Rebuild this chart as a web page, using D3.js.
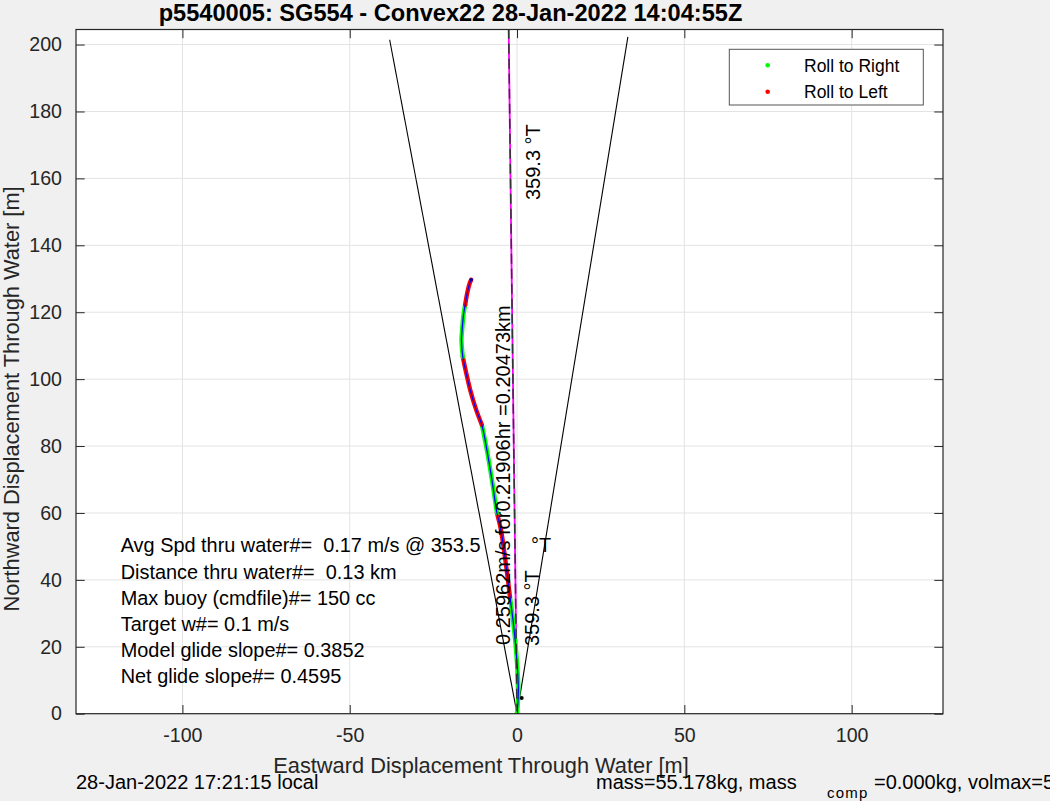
<!DOCTYPE html>
<html>
<head>
<meta charset="utf-8">
<script src="https://cdn.jsdelivr.net/npm/d3@7"></script>
<style>
  html, body { margin: 0; padding: 0; background: #f0f0f0; }
  svg { display: block; font-family: "Liberation Sans", Arial, Helvetica, sans-serif; }
  text { white-space: pre; }
</style>
</head>
<body>
<svg id="chart" width="1050" height="801"></svg>
<script>
// ---------------- data ----------------
const titleText = "p5540005: SG554 - Convex22 28-Jan-2022 14:04:55Z";
const xLabel = "Eastward Displacement Through Water [m]";
const yLabel = "Northward Displacement Through Water [m]";
const xDomain = [-131.8, 127.3];
const yDomain = [0, 204.5];
const xTicks = [-100, -50, 0, 50, 100];
const yTicks = [0, 20, 40, 60, 80, 100, 120, 140, 160, 180, 200];

// glide track (east, north) in metres
const trackX = [0, 0.4, -0.3, -1.2, -2.1, -3.3, -4.8, -6.0, -7.5, -9.0, -10.5, -12.2, -14.0, -15.4, -16.2, -16.6, -16.4, -16.0, -15.5, -14.8, -14.1, -13.7];
const trackY = [0, 7.1, 19, 28, 34.9, 44.5, 54.9, 60, 69.9, 78.8, 86.3, 90.8, 96.8, 102.8, 106.6, 111.7, 114.7, 119.2, 122.2, 126.1, 128.8, 129.7];
// roll segments: [startIndex, endIndex, side]
const rollStart = [0, 4, 7, 10, 14, 18];
const rollEnd   = [4, 7, 10, 14, 18, 21];
const rollSide  = ["R", "L", "R", "L", "R", "L"];

// heading cone and heading line
const headingDeg = 359.3;
const coneHeadings = [349.3, 9.3];
const coneLength = 205;
const headingLineLength = 215;

// small marker near start (current arrow head)
const markX = [1.4];
const markY = [4.7];

const legendLabels = ["Roll to Right", "Roll to Left"];
const legendColors = ["#00ff00", "#ff0000"];

const infoLines = [
  "Avg Spd thru water#=  0.17 m/s @ 353.5",
  "Distance thru water#=  0.13 km",
  "Max buoy (cmdfile)#= 150 cc",
  "Target w#= 0.1 m/s",
  "Model glide slope#= 0.3852",
  "Net glide slope#= 0.4595"
];
const avgDirSuffix = "°T";
const headingLabel = "359.3 °T";
const currentLabel = "0.25962m/s for0.21906hr =0.20473km";
const footLeft = "28-Jan-2022 17:21:15 local";
const footRightA = "mass=55.178kg, mass";
const footRightSub = "comp";
const footRightB = "=0.000kg, volmax=5";

// ---------------- drawing ----------------
const svg = d3.select("#chart");
const L = 76, R = 943, T = 29.5, B = 713.7;
const x = d3.scaleLinear().domain(xDomain).range([L, R]);
const y = d3.scaleLinear().domain(yDomain).range([B, T]);
const ink = "#262626";

svg.append("rect").attr("width", 1050).attr("height", 801).attr("fill", "#f0f0f0");
svg.append("rect").attr("x", L).attr("y", T).attr("width", R - L).attr("height", B - T).attr("fill", "#ffffff");

svg.append("defs").append("clipPath").attr("id", "plotclip")
  .append("rect").attr("x", L).attr("y", T).attr("width", R - L).attr("height", B - T);

// grid
const grid = svg.append("g").attr("stroke", "#e3e3e3").attr("stroke-width", 1);
grid.selectAll(".gx").data(xTicks).join("line")
  .attr("x1", d => x(d)).attr("x2", d => x(d)).attr("y1", T).attr("y2", B);
grid.selectAll(".gy").data(yTicks).join("line")
  .attr("x1", L).attr("x2", R).attr("y1", d => y(d)).attr("y2", d => y(d));

const plot = svg.append("g").attr("clip-path", "url(#plotclip)");
const rad = d => d * Math.PI / 180;

// cone lines
plot.selectAll(".cone").data(coneHeadings).join("line")
  .attr("x1", x(0)).attr("y1", y(0))
  .attr("x2", d => x(coneLength * Math.sin(rad(d))))
  .attr("y2", d => y(coneLength * Math.cos(rad(d))))
  .attr("stroke", "#000").attr("stroke-width", 1.1);

// heading line magenta + black dashed
const hx = headingLineLength * Math.sin(rad(headingDeg));
const hy = headingLineLength * Math.cos(rad(headingDeg));
plot.append("line").attr("x1", x(0)).attr("y1", y(0)).attr("x2", x(hx)).attr("y2", y(hy))
  .attr("stroke", "#ff00ff").attr("stroke-width", 1.8);

// track
const pts = trackX.map((v, i) => [v, trackY[i]]);
const lineGen = d3.line().x(d => x(d[0])).y(d => y(d[1])).curve(d3.curveCatmullRom);
rollStart.forEach((s, k) => {
  plot.append("path").attr("d", lineGen(pts.slice(s, rollEnd[k] + 1)))
    .attr("fill", "none")
    .attr("stroke", rollSide[k] === "R" ? "#00ff00" : "#ff0000")
    .attr("stroke-width", 4.4).attr("stroke-linecap", "round");
});
plot.append("path").attr("d", lineGen(pts)).attr("fill", "none")
  .attr("stroke", "#0000ff").attr("stroke-width", 1.2);

plot.append("line").attr("x1", x(0)).attr("y1", y(0)).attr("x2", x(hx)).attr("y2", y(hy))
  .attr("stroke", "#333").attr("stroke-width", 1.5).attr("stroke-dasharray", "10,5");

// start marker and arrow mark
plot.append("circle").attr("cx", x(trackX[0])).attr("cy", y(trackY[0])).attr("r", 2.5).attr("fill", "#00ff00");
plot.selectAll(".mk").data(markX).join("circle")
  .attr("cx", d => x(d)).attr("cy", (d, i) => y(markY[i])).attr("r", 2).attr("fill", "#000");
plot.append("circle").attr("cx", x(trackX[trackX.length - 1])).attr("cy", y(trackY[trackY.length - 1])).attr("r", 1.8).attr("fill", "#0000aa");

// rotated labels
function vtext(px, py, str) {
  svg.append("text").attr("transform", `translate(${px},${py}) rotate(-90)`)
    .attr("font-size", 20).attr("fill", "#000").text(str);
}
vtext(540, 200, headingLabel);
vtext(539, 646, headingLabel);
vtext(510, 645, currentLabel);

// info text
svg.append("g").selectAll("text").data(infoLines).join("text")
  .attr("x", 120.7).attr("y", (d, i) => 552.3 + i * 26.2)
  .attr("font-size", 19.9).attr("fill", "#000").text(d => d);
svg.append("text").attr("x", 531).attr("y", 552.3).attr("font-size", 19.9).attr("fill", "#000").text(avgDirSuffix);

// legend
const lg = svg.append("g");
lg.append("rect").attr("x", 729.3).attr("y", 49.3).attr("width", 194).attr("height", 55.7)
  .attr("fill", "#fff").attr("stroke", "#555").attr("stroke-width", 1);
legendLabels.forEach((lab, i) => {
  const cy = 65.3 + i * 26.4;
  lg.append("circle").attr("cx", 767.7).attr("cy", cy).attr("r", 2.3).attr("fill", legendColors[i]);
  lg.append("text").attr("x", 804).attr("y", cy + 6.3).attr("font-size", 17.5).attr("fill", "#000").text(lab);
});

// axes
const tk = 8.7;
const axB = svg.append("g").attr("transform", `translate(0,${B})`)
  .call(d3.axisBottom(x).tickValues(xTicks).tickSize(-tk).tickPadding(14.3).tickFormat(d3.format("d")));
const axL = svg.append("g").attr("transform", `translate(${L},0)`)
  .call(d3.axisLeft(y).tickValues(yTicks).tickSize(-tk).tickPadding(14).tickFormat(d3.format("d")));
const axT = svg.append("g").attr("transform", `translate(0,${T})`)
  .call(d3.axisTop(x).tickValues(xTicks).tickSize(-tk).tickFormat(""));
const axR = svg.append("g").attr("transform", `translate(${R},0)`)
  .call(d3.axisRight(y).tickValues(yTicks).tickSize(-tk).tickFormat(""));
[axB, axL, axT, axR].forEach(a => {
  a.select(".domain").remove();
  a.selectAll(".tick line").attr("stroke", ink).attr("stroke-width", 1);
  a.selectAll("text").attr("font-size", 19.6).attr("fill", ink)
    .attr("font-family", "'Liberation Sans', Arial, sans-serif");
});
axB.selectAll(".tick text").text(d => d < 0 ? "-" + Math.abs(d) : String(d));
svg.append("rect").attr("x", L).attr("y", T).attr("width", R - L).attr("height", B - T)
  .attr("fill", "none").attr("stroke", ink).attr("stroke-width", 1.2);

// title & labels
svg.append("text").attr("x", 450.5).attr("y", 21).attr("text-anchor", "middle")
  .attr("font-size", 23.6).attr("font-weight", "bold").attr("fill", "#000").text(titleText);
svg.append("text").attr("x", 481).attr("y", 772.5).attr("text-anchor", "middle")
  .attr("font-size", 21.8).attr("fill", ink).text(xLabel);
svg.append("text").attr("transform", "translate(19,399) rotate(-90)").attr("text-anchor", "middle")
  .attr("font-size", 21.8).attr("fill", ink).text(yLabel);

// footer
svg.append("text").attr("x", 76).attr("y", 789).attr("font-size", 20).attr("fill", "#000").text(footLeft);
svg.append("text").attr("x", 596).attr("y", 789).attr("font-size", 20).attr("fill", "#000").text(footRightA);
svg.append("text").attr("x", 827).attr("y", 797.5).attr("font-size", 15).attr("letter-spacing", 1.2).attr("fill", "#000").text(footRightSub);
svg.append("text").attr("x", 874).attr("y", 789).attr("font-size", 20).attr("fill", "#000").text(footRightB);
</script>
</body>
</html>
